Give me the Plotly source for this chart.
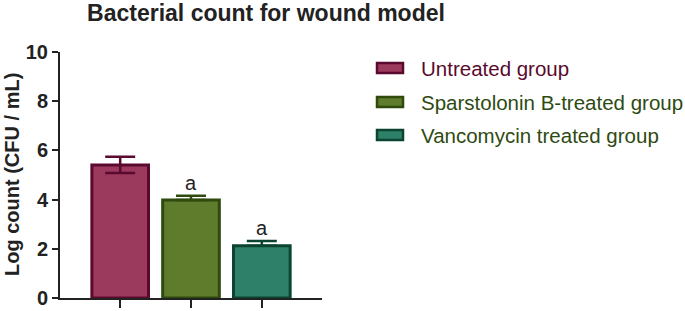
import plotly.graph_objects as go

groups = ["Untreated group", "Sparstolonin B-treated group", "Vancomycin treated group"]
log_counts = [5.41, 3.98, 2.12]
err_plus = [0.33, 0.18, 0.2]
err_minus = [0.33, 0.0, 0.0]
sig_labels = ["", "a", "a"]
y_ticks = [0, 2, 4, 6, 8, 10]

fills = ["#9C3A5E", "#5F7B2C", "#2E8069"]
borders = ["#5A0A2E", "#2E4A0C", "#0C4432"]
text_cols = ["#5A0A2E", "#2E4A12", "#2E4A12"]

W, H = 685, 311
L, T, B = 60, 52, 13
PW, PH = W - L, H - T - B


def px_x(x):
    return (x - L) / PW


def px_y(y):
    return (H - B - y) / PH


fig = go.Figure()
for i, g in enumerate(groups):
    fig.add_trace(go.Bar(
        x=[i], y=[log_counts[i]], width=0.8, name=g,
        marker=dict(color=fills[i], line=dict(color=borders[i], width=3)),
        error_y=dict(type="data", symmetric=False, array=[err_plus[i]],
                     arrayminus=[err_minus[i]], color=borders[i],
                     thickness=2.5, width=15),
        showlegend=False,
    ))

annotations = []
for i, s in enumerate(sig_labels):
    if s:
        annotations.append(dict(x=i, y=log_counts[i] + err_plus[i], xref="x", yref="y",
                                text=s, showarrow=False, yanchor="bottom", yshift=0,
                                font=dict(family="Liberation Sans, Arial", size=20, color="#222")))

# y-axis title
annotations.append(dict(x=0, y=0.5, xref="paper", yref="paper", xshift=-(60 - 12),
                        text="Log count (CFU / mL)", textangle=-90, showarrow=False,
                        xanchor="center", yanchor="middle",
                        font=dict(family="Liberation Sans, Arial", size=20, color="#222",
                                  weight="bold")))

# custom legend
shapes = []
rows_y = [68, 102, 135]
for i, g in enumerate(groups):
    yc = rows_y[i]
    shapes.append(dict(type="rect", xref="paper", yref="paper",
                       x0=px_x(377), x1=px_x(403), y0=px_y(yc + 5), y1=px_y(yc - 5),
                       fillcolor=fills[i], line=dict(color=borders[i], width=2.5)))
    annotations.append(dict(x=px_x(419), y=px_y(yc), xref="paper", yref="paper",
                            text=g, showarrow=False, xanchor="left", yanchor="middle",
                            font=dict(family="Liberation Sans, Arial", size=20.5,
                                      color=text_cols[i])))

fig.update_layout(
    width=W, height=H,
    margin=dict(l=L, r=0, t=T, b=B),
    paper_bgcolor="white", plot_bgcolor="white",
    barmode="overlay",
    title=dict(text="Bacterial count for wound model", x=266 / W, xanchor="center",
               y=1 - 13 / H, yanchor="middle", xref="container", yref="container",
               font=dict(family="Liberation Sans, Arial", size=23, color="#222",
                         weight="bold")),
    xaxis=dict(domain=[0, 262 / PW], range=[-0.85, 2.85], tickvals=[0, 1, 2],
               showticklabels=False, ticks="outside", ticklen=8, tickwidth=2, tickcolor="#222",
               showline=True, linecolor="#222", linewidth=2, showgrid=False, zeroline=False),
    yaxis=dict(range=[0, 10], tickvals=y_ticks, ticks="outside", ticklen=6, tickwidth=2,
               tickcolor="#222", showline=True, linecolor="#222", linewidth=2,
               showgrid=False, zeroline=False,
               tickfont=dict(family="Liberation Sans, Arial", size=20, color="#222",
                             weight="bold")),
    annotations=annotations,
    shapes=shapes,
)

fig.write_html("out.html", config={"displayModeBar": False},
               post_script="document.body.style.margin='0';document.body.style.overflow='hidden';")
